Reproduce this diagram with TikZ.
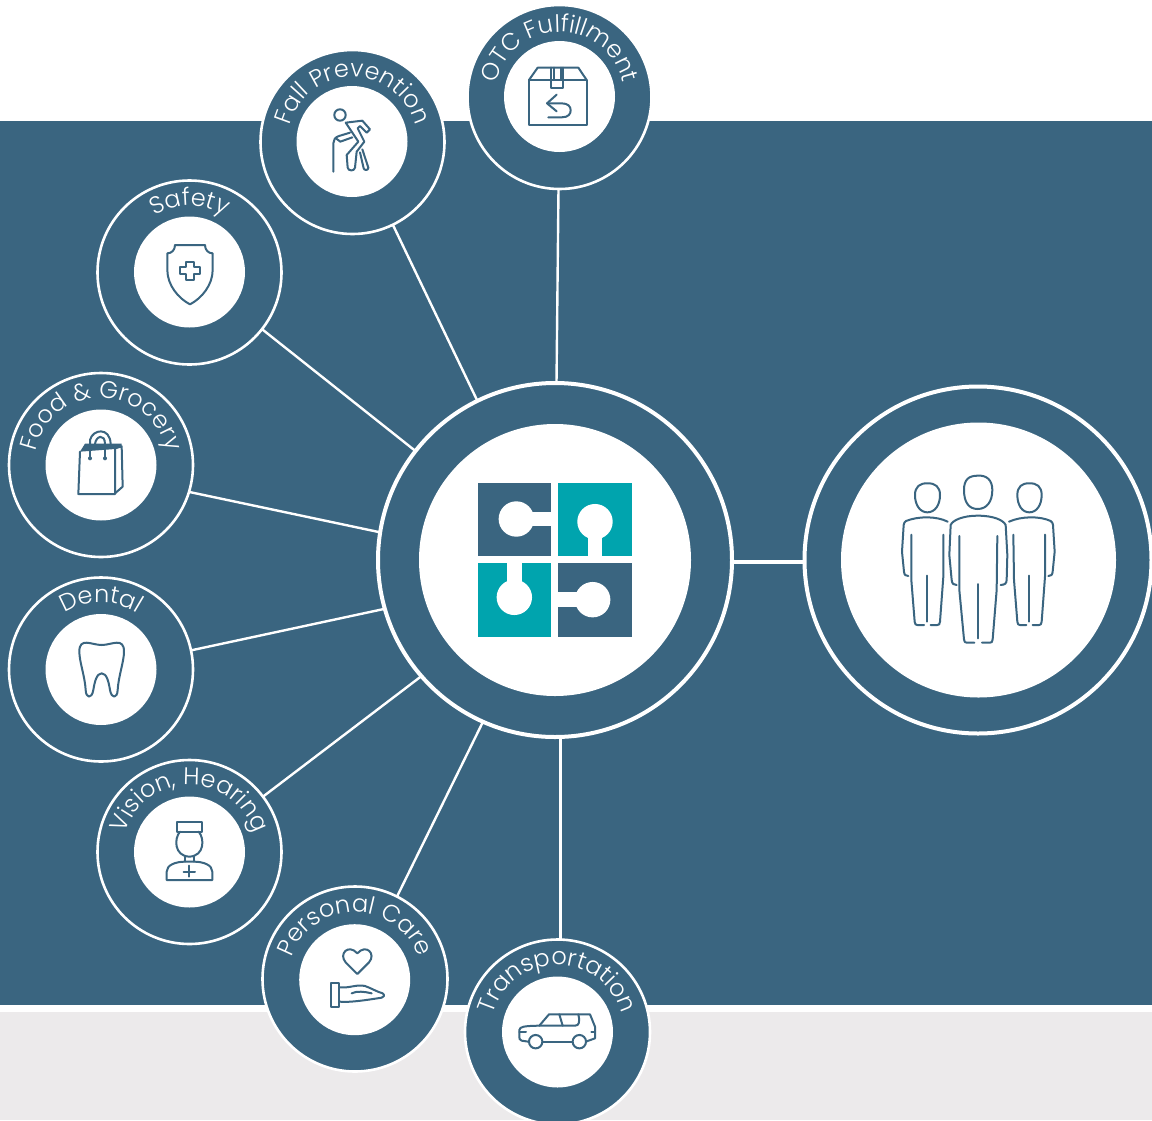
\documentclass[tikz,border=0pt]{standalone}
\usepackage{fontspec}
\setmainfont{Poppins}
\newfontfamily\lab{Poppins Light}
\usetikzlibrary{decorations.text}
\definecolor{deep}{HTML}{3A6580}
\definecolor{teal2}{HTML}{00A4AE}
\definecolor{pale}{HTML}{ECEAEB}
\tikzset{
  ringnode/.style={circle,draw=white,line width=2.6pt,fill=deep,minimum size=#1,inner sep=0pt,outer sep=0pt},
  disc/.style={circle,fill=white,minimum size=#1,inner sep=0pt,outer sep=0pt},
  link/.style={draw=white,line width=2.4pt},
  icon/.style={draw=deep,line width=2pt,line join=round,line cap=round},
  zoomat/.style 2 args={shift={(#1,#2)},x=0.33333pt,y=-0.33333pt}
}
\newcommand{\arclabel}[4]{% centre, radius, text, size
  \path[decorate,decoration={text along path,text align=center,
    text={|\lab\fontsize{#4}{#4}\selectfont\color{white}|#3}}]
    (#1) ++(190:#2) arc[start angle=190,end angle=-10,radius=#2];}
\begin{document}
\begin{tikzpicture}[x=1pt,y=-1pt]
\useasboundingbox (0,0) rectangle (1152,1120);
\fill[white] (0,0) rectangle (1152,1120);
\fill[deep] (0,121) rectangle (1152,1004.5);
\fill[pale] (0,1012) rectangle (1152,1120);

% rings
\node[ringnode=354pt,line width=4pt] (hub) at (555,560) {};
\node[ringnode=347pt,line width=4pt] (people) at (978,560) {};
\node[ringnode=184pt] (otc) at (559.5,97) {};
\node[ringnode=184pt] (fall) at (352.5,142) {};
\node[ringnode=184pt] (safety) at (189.5,272.5) {};
\node[ringnode=184pt] (food) at (101,465) {};
\node[ringnode=184pt] (dental) at (101,669.5) {};
\node[ringnode=184pt] (vision) at (189.5,852) {};
\node[ringnode=185pt] (care) at (355,979) {};
\node[ringnode=185pt] (trans) at (557.5,1032) {};
% discs
\node[disc=272pt] (hubin) at (hub) {};
\node[disc=275pt] (peoplein) at (978.5,560) {};
\node[disc=111pt] (otcin) at (559.5,96.5) {};
\node[disc=111pt] (fallin) at (352,141.5) {};
\node[disc=111pt] (safetyin) at (189.5,272) {};
\node[disc=111pt] (foodin) at (101,465) {};
\node[disc=111pt] (dentalin) at (101,669.5) {};
\node[disc=111pt] (visionin) at (189.5,852) {};
\node[disc=111pt] (carein) at (354.7,979.7) {};
\node[disc=111pt] (transin) at (557.5,1032) {};
% connectors
\draw[link] ([xshift=1.5pt]hub.north) -- ([xshift=-1pt]otc.south);
\draw[link] (hub.116.3) -- (fall.-64.6);
\draw[link] (hub.142.5) -- (safety.-38.8);
\draw[link] (hub.171.6) -- (food.-17.5);
\draw[link] (hub.196) -- (dental.12.1);
\draw[link] (hub.221.6) -- (vision.37.3);
\draw[link] (hub.246.2) -- (care.63.7);
\draw[link] ([xshift=5.5pt]hub.south) -- ([xshift=3pt]trans.north);
\draw[link,line width=3.6pt] ([yshift=-2pt]hub.east) -- ([yshift=-2pt]people.west);

% labels
\arclabel{559.5,97}{65pt}{OTC Fulfillment}{24pt}
\arclabel{352.5,142}{65pt}{Fall Prevention}{24pt}
\arclabel{189.5,272.5}{67pt}{Safety}{24pt}
\arclabel{101,465}{67pt}{Food {\&} Grocery}{24pt}
\arclabel{101,669.5}{67pt}{Dental}{24pt}
\arclabel{189.5,852}{67pt}{Vision, Hearing}{24pt}
\arclabel{355,979}{67pt}{Personal Care}{24pt}
\arclabel{557.5,1032}{67pt}{Transportation}{24pt}

% puzzle
\begin{scope}[zoomat={450}{460}]
  \fill[deep] (83,68) rectangle (303,287);
  \fill[teal2] (325,68) rectangle (545,287);
  \fill[teal2] (83,310) rectangle (303,530);
  \fill[deep] (325,310) rectangle (545,530);
  \fill[white] (199,177) circle[radius=17.7pt];
  \fill[white] (199,155) rectangle (305,199);
  \fill[white] (435,185) circle[radius=17.7pt];
  \fill[white] (413,185) rectangle (457,289);
  \fill[white] (193,412) circle[radius=17.7pt];
  \fill[white] (171,308) rectangle (215,412);
  \fill[white] (428,419) circle[radius=17.7pt];
  \fill[white] (323,397) rectangle (428,441);
\end{scope}

% people
\begin{scope}[zoomat={880}{460}]
  % centre
  \draw[icon] (293,47) .. controls (320,45) and (337,60) .. (337,90) .. controls (337,125) and (320,147) .. (293,147) .. controls (265,147) and (252,125) .. (252,90) .. controls (252,60) and (265,47) .. (293,47);
  \draw[icon] (362,375) .. controls (376,374) and (379,370) .. (380,360) -- (382,285) -- (377,195) .. controls (370,180) and (340,167) .. (293,167) .. controls (250,167) and (218,180) .. (212,195) -- (208,285) -- (215,360) .. controls (216,372) and (222,375) .. (230,375);
  \draw[icon] (238,228) -- (238,390) -- (252,538) .. controls (253,546) and (255,548) .. (260,548) -- (283,548);
  \draw[icon] (352,228) -- (350,390) -- (338,538) .. controls (337,546) and (335,548) .. (330,548) -- (306,548);
  \draw[icon] (295,372) -- (295,535);
  % left
  \draw[icon] (142,70) .. controls (165,69) and (180,80) .. (180,105) .. controls (180,135) and (165,157) .. (142,157) .. controls (120,157) and (105,135) .. (105,105) .. controls (105,80) and (120,69) .. (142,70);
  \draw[icon] (203,185) .. controls (170,168) and (115,168) .. (78,183) .. controls (73,186) and (72,190) .. (71,195) -- (66,275) -- (72,335) .. controls (73,345) and (77,348) .. (85,348);
  \draw[icon] (94,224) -- (94,360) -- (104,485) .. controls (105,493) and (107,495) .. (112,495) -- (132,495);
  \draw[icon] (190,224) -- (190,350) -- (180,485) .. controls (179,493) and (177,495) .. (172,495) -- (152,495);
  \draw[icon] (142,347) -- (142,485);
  % right
  \draw[icon] (448,70) .. controls (471,69) and (485,80) .. (485,105) .. controls (485,135) and (470,157) .. (448,157) .. controls (426,157) and (412,135) .. (412,105) .. controls (412,80) and (426,69) .. (448,70);
  \draw[icon] (387,185) .. controls (425,168) and (480,168) .. (512,183) .. controls (517,186) and (518,190) .. (519,195) -- (524,275) -- (518,335) .. controls (517,345) and (513,348) .. (505,348);
  \draw[icon] (400,224) -- (402,360) -- (412,485) .. controls (413,493) and (415,495) .. (420,495) -- (439,495);
  \draw[icon] (495,224) -- (495,350) -- (485,485) .. controls (484,493) and (482,495) .. (477,495) -- (458,495);
  \draw[icon] (448,347) -- (448,485);
\end{scope}

% box
\begin{scope}[zoomat={240}{0}]
  \draw[icon] (867,240) -- (867,375) -- (1040,375) -- (1040,240) -- cycle;
  \draw[icon] (867,240) -- (893,203) -- (1015,203) -- (1040,240);
  \draw[icon] (933,203) -- (933,264) -- (970,264) -- (970,203);
  \draw[icon] (941,203) -- (941,240) (962,203) -- (962,240);
  \draw[icon] (925,352) -- (965,352) .. controls (985,352) and (992,342) .. (992,331) .. controls (992,320) and (985,310) .. (965,310) -- (922,310);
  \draw[icon] (950,284) -- (921,310) -- (950,334);
\end{scope}
% elder
\begin{scope}[zoomat={325}{100}]
  \draw[icon] (45,45) circle[radius=5.7pt];
  \draw[icon] (62,68) -- (112,62) -- (135,88) -- (125,98) -- (105,78) -- (98,85) -- (118,125) -- (95,155) -- (90,203) .. controls (88,214) and (70,214) .. (68,203) -- (65,165) -- (100,125) -- cycle;
  \draw[icon] (112,148) -- (130,203) .. controls (130,212) and (118,212) .. (116,205) -- (105,157);
  \draw[icon] (75,98) -- (42,108) .. controls (30,112) and (25,120) .. (25,130) -- (25,215);
  \draw[icon] (82,112) -- (46,125) -- (34,116);
\end{scope}

% shield
\begin{scope}[zoomat={0}{170}]
  \draw[icon] (525,225) -- (615,225) .. controls (615,240) and (625,250) .. (638,250) -- (638,300) .. controls (638,345) and (605,385) .. (570,403) .. controls (535,385) and (502,345) .. (502,300) -- (502,250) .. controls (515,250) and (525,240) .. (525,225) -- cycle;
  \draw[icon] (559,275) -- (581,275) -- (581,291) -- (600,291) -- (600,313) -- (581,313) -- (581,330) -- (559,330) -- (559,313) -- (541,313) -- (541,291) -- (559,291) -- cycle;
\end{scope}
% bag
\begin{scope}[zoomat={70}{425}]
  \fill[deep] (45,56) -- (155,56) -- (155,66) -- (135,72) -- (30,80) -- cycle;
  \draw[icon] (30,80) -- (25,207) -- (135,207) -- (135,72);
  \draw[icon] (135,70) -- (155,64) -- (158,185) -- (135,205);
  \draw[icon] (60,57) -- (60,45) .. controls (68,12) and (120,5) .. (122,57);
  \draw[icon] (60,72) -- (60,100) (105,72) -- (105,100);
  \draw[icon] (75,57) .. controls (78,32) and (105,25) .. (105,57);
  \fill[deep] (60,100) circle[radius=2pt] (105,100) circle[radius=2pt];
\end{scope}

% tooth, nurse
\begin{scope}[zoomat={0}{570}]
  \draw[icon] (305,225) .. controls (335,225) and (372,200) .. (372,245) .. controls (372,275) and (355,320) .. (353,360) .. controls (352,385) and (335,388) .. (330,360) .. controls (326,335) and (320,310) .. (305,310) .. controls (290,310) and (284,335) .. (280,360) .. controls (275,388) and (258,385) .. (257,360) .. controls (255,320) and (238,275) .. (238,245) .. controls (238,200) and (275,225) .. (305,225);
  \draw[icon] (530,755) rectangle (607,785);
  \draw[icon] (540,785) .. controls (522,805) and (522,858) .. (568,860) .. controls (614,858) and (614,805) .. (596,785);
  \draw[icon] (555,858) -- (555,875) (582,858) -- (582,875);
  \draw[icon] (500,930) -- (637,930) -- (637,905) .. controls (637,885) and (610,875) .. (582,875) -- (555,875) .. controls (527,875) and (500,885) .. (500,905) -- cycle;
  \draw[icon] (568,887) -- (568,920) (551,905) -- (585,905);
\end{scope}

% heart, hand, car
\begin{scope}[zoomat={250}{880}]
  \draw[icon] (322,282) -- (287,247) .. controls (265,222) and (295,190) .. (322,220) .. controls (349,190) and (379,222) .. (357,247) -- cycle;
  \draw[icon] (242,310) rectangle (268,380);
  \draw[icon] (268,322) .. controls (300,325) and (320,312) .. (345,318) .. controls (365,325) and (380,335) .. (398,340) .. controls (405,345) and (402,352) .. (395,353) .. controls (350,360) and (300,368) .. (268,365);
  \draw[icon] (305,340) .. controls (320,332) and (345,335) .. (365,340);
  \draw[icon] (835,485) -- (815,482) .. controls (808,480) and (808,475) .. (808,470) -- (808,450) .. controls (810,440) and (820,438) .. (868,437) -- (897,403) -- (1020,403) -- (1035,440) -- (1035,475) -- (1010,484);
  \draw[icon] (878,485) -- (967,485);
  \draw[icon] (868,437) -- (975,437) .. controls (988,437) and (990,425) .. (985,403);
  \draw[icon] (928,403) -- (938,437);
  \draw[icon] (808,457) -- (828,457) (1035,457) -- (1024,457);
  \draw[icon] (857,485) circle[radius=6.7pt];
  \draw[icon] (988,485) circle[radius=6.7pt];
\end{scope}
\end{tikzpicture}
\end{document}
